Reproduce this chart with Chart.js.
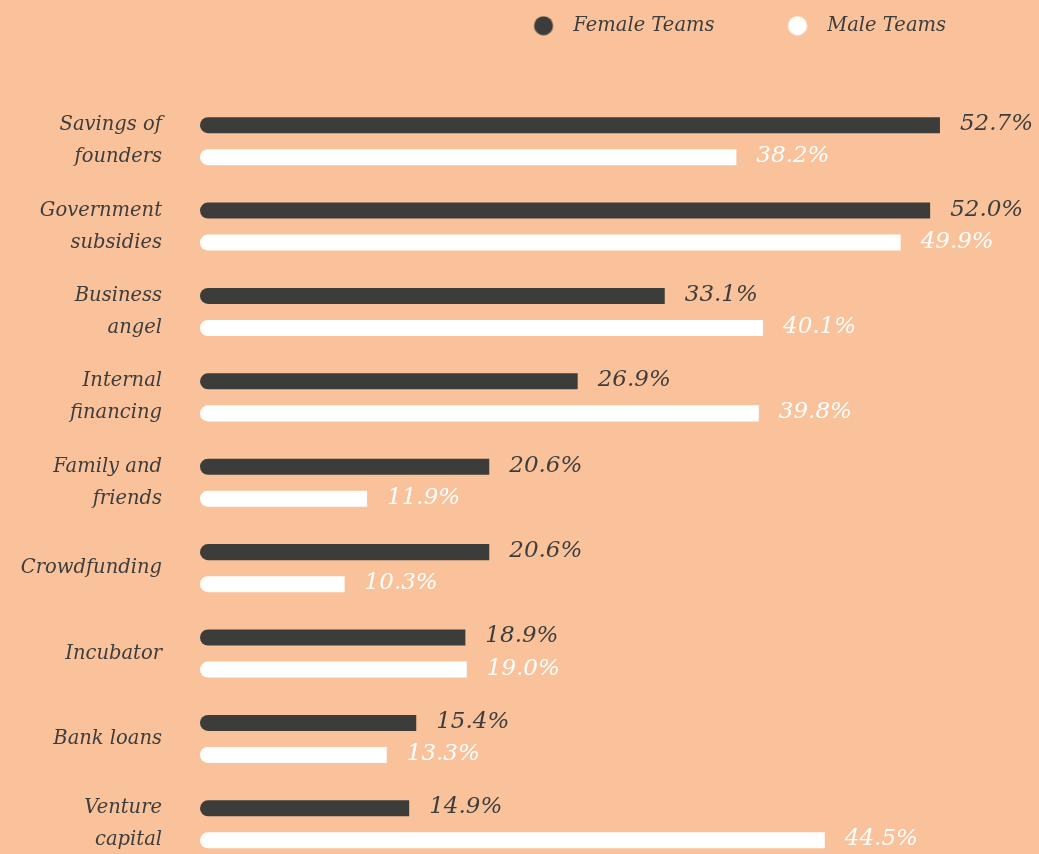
<!DOCTYPE html>
<html>
<head>
<meta charset="utf-8">
<script src="https://cdn.jsdelivr.net/npm/chart.js@4.4.1/dist/chart.umd.min.js"></script>
<style>
  html, body { margin: 0; padding: 0; background: #fac29b; overflow: hidden; }
  canvas { display: block; }
</style>
</head>
<body>
<canvas id="fundingChart" width="1039" height="872"></canvas>
<script>
// Sources of funding, share of teams
const categories = [
  ['Savings of', 'founders'],
  ['Government', 'subsidies'],
  ['Business', 'angel'],
  ['Internal', 'financing'],
  ['Family and', 'friends'],
  'Crowdfunding',
  'Incubator',
  'Bank loans',
  ['Venture', 'capital']
];
const femaleTeams = [52.7, 52.0, 33.1, 26.9, 20.6, 20.6, 18.9, 15.4, 14.9];
const maleTeams = [38.2, 49.9, 40.1, 39.8, 11.9, 10.3, 19.0, 13.3, 44.5];
const seriesNames = ['Female Teams', 'Male Teams'];

const darkColor = '#3c3c3b';
const lightColor = '#ffffff';
const textColor = '#3d3d3d';
const serif = "'DejaVu Serif', serif";

// legend dot with empty room on its left so the gaps match
function legendDot(color) {
  const c = document.createElement('canvas');
  c.width = 87;
  c.height = 20;
  const ctx = c.getContext('2d');
  ctx.fillStyle = color;
  ctx.beginPath();
  ctx.arc(67, 10, 9.5, 0, Math.PI * 2);
  ctx.fill();
  return c;
}

// value labels next to each bar
const valueLabels = {
  id: 'valueLabels',
  afterDatasetsDraw(chart) {
    const ctx = chart.ctx;
    ctx.save();
    ctx.font = 'italic 23px ' + serif;
    ctx.textBaseline = 'middle';
    ctx.textAlign = 'left';
    chart.data.datasets.forEach((ds, i) => {
      ctx.fillStyle = i === 0 ? textColor : lightColor;
      chart.getDatasetMeta(i).data.forEach((bar, j) => {
        ctx.fillText(ds.data[j].toFixed(1) + '%', bar.x + 20, bar.y - 1);
      });
    });
    ctx.restore();
  }
};

new Chart(document.getElementById('fundingChart'), {
  type: 'bar',
  data: {
    labels: categories,
    datasets: [{
      label: seriesNames[0],
      data: femaleTeams,
      backgroundColor: darkColor,
      pointStyle: legendDot(darkColor),
    }, {
      label: seriesNames[1],
      data: maleTeams,
      backgroundColor: lightColor,
      pointStyle: legendDot(lightColor),
    }]
  },
  options: {
    indexAxis: 'y',
    responsive: false,
    animation: false,
    barPercentage: 0.5,
    categoryPercentage: 0.75,
    borderSkipped: false,
    borderRadius: { topLeft: 8, bottomLeft: 8, topRight: 0, bottomRight: 0 },
    layout: { padding: { right: 77, bottom: 5 } },
    plugins: {
      legend: {
        position: 'top',
        align: 'end',
        labels: {
          usePointStyle: true,
          pointStyleWidth: 87,
          padding: 16,
          color: textColor,
          font: { family: serif, size: 19.5, style: 'italic' }
        }
      },
      tooltip: { enabled: false }
    },
    scales: {
      x: {
        position: 'top',
        min: 0,
        max: 54.27,
        grid: { display: false },
        border: { display: false },
        ticks: { display: false },
        afterFit(scale) { scale.height = 53; }
      },
      y: {
        grid: { display: false, drawTicks: false },
        border: { display: false },
        ticks: {
          padding: 38,
          color: textColor,
          font: { family: serif, size: 19.5, style: 'italic', lineHeight: 1.64 }
        },
        afterFit(scale) {
          scale.width = 200;
          scale.paddingTop = 0;
          scale.paddingBottom = 0;
        }
      }
    }
  },
  plugins: [valueLabels]
});
</script>
</body>
</html>
